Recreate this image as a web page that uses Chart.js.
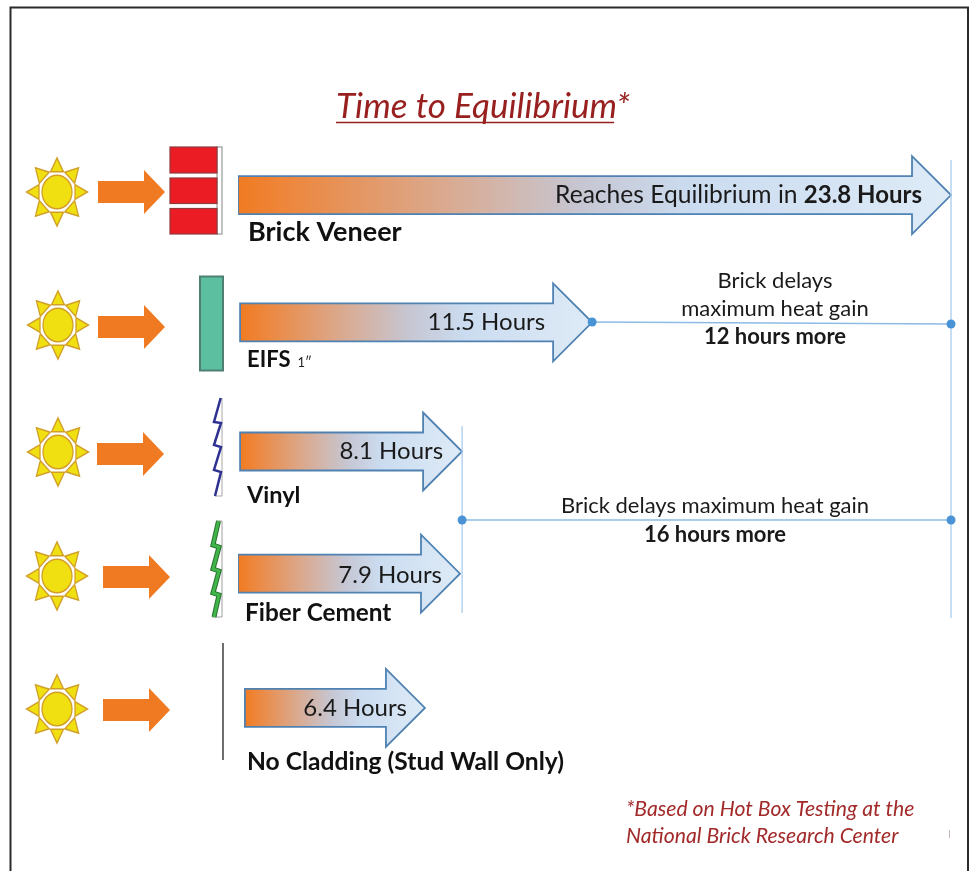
<!DOCTYPE html>
<html><head><meta charset="utf-8">
<style>html,body{margin:0;padding:0;background:#fff}canvas{display:block}</style>
<script src="https://cdn.jsdelivr.net/npm/chart.js@4/dist/chart.umd.js"></script>
</head><body><canvas id="c" width="974" height="871"></canvas>
<script>
// ---- data ----
const categories = ['Brick Veneer','EIFS','Vinyl','Fiber Cement','No Cladding (Stud Wall Only)'];
const arrowStartHours = [0, 0.07, 0.07, 0, 0.23];
const arrowEndHours = [23.8, 11.82, 7.48, 7.41, 6.24];
const prefixLabels = ['Reaches Equilibrium in ', '', '', '', ''];
const valueLabels = ['23.8 Hours','11.5 Hours','8.1 Hours','7.9 Hours','6.4 Hours'];
const titleText = 'Time to Equilibrium';
const titleMark = '*';
const footnoteLines = ['*Based on Hot Box Testing at the','National Brick Research Center'];
const delayA = ['Brick delays','maximum heat gain','12 hours more'];
const delayB = ['Brick delays maximum heat gain','16 hours more'];

// ---- layout and style ----
const FONT = 'Lato, "Open Sans", sans-serif';
const rowNudge = [0,-1,0,-6,0];
const layoutStyle = {
  valueRight:[29,47,19,18,18],
  valueNudge:[0,0,0,1.5,0],
  valueBold:[true,false,false,false,false],
  catX:[248,247,247,245,247], catY:[232,360,495,613,762],
  catSize:[27,22,23.5,24.3,24.6],
  sun:[[57,192],[58,325],[58,452],[57,576],[57,709]],
  push:[[98,192],[98,327],[97,454],[103,577],[103,710]]
};
let chartRef = null;

class ArrowBar extends Chart.BarElement {
  static id = 'arrowBar';
  static defaults = {...Chart.BarElement.defaults};
  draw(ctx){
    const {x,base,y,height} = this.getProps(['x','base','y','height']);
    const idx = chartRef ? chartRef.getDatasetMeta(0).data.indexOf(this) : 0;
    const cy = y + rowNudge[idx];
    const h = height/2, H = 39, hw = 39;
    const g = ctx.createLinearGradient(base,0,x,0);
    g.addColorStop(0,'#f07b22'); g.addColorStop(0.06,'#ee8539');
    g.addColorStop(0.3,'#d9ab93'); g.addColorStop(0.48,'#c6c6d2');
    g.addColorStop(0.64,'#cbdcf0'); g.addColorStop(1,'#deebf7');
    ctx.save();
    ctx.beginPath();
    ctx.moveTo(base,cy-h); ctx.lineTo(x-hw,cy-h); ctx.lineTo(x-hw,cy-H); ctx.lineTo(x,cy);
    ctx.lineTo(x-hw,cy+H); ctx.lineTo(x-hw,cy+h); ctx.lineTo(base,cy+h); ctx.closePath();
    ctx.fillStyle = g; ctx.fill();
    ctx.lineWidth = 1.8; ctx.strokeStyle = '#4f82b2'; ctx.lineJoin='miter'; ctx.stroke();
    ctx.restore();
  }
}
class ArrowController extends Chart.BarController {
  static id = 'arrow';
  static defaults = {...Chart.BarController.defaults, dataElementType:'arrowBar'};
  static overrides = Chart.BarController.overrides;
}
Chart.register(ArrowBar, ArrowController);

function text(ctx,s,x,y,font,color,align){
  ctx.font=font; ctx.fillStyle=color; ctx.textAlign=align||'left'; ctx.textBaseline='middle';
  ctx.fillText(s,x,y);
}
function drawSun(ctx,cx,cy){
  ctx.save(); ctx.translate(cx,cy); ctx.scale(1,1.12);
  ctx.fillStyle='#f0e012'; ctx.strokeStyle='#d19f28'; ctx.lineWidth=1.3;
  for(let i=0;i<8;i++){
    ctx.save(); ctx.rotate(i*Math.PI/4);
    const tip = 30.5, inner=18, w=i%2?7:6.5;
    ctx.beginPath(); ctx.moveTo(inner,-w); ctx.lineTo(tip,0); ctx.lineTo(inner,w); ctx.closePath();
    ctx.fill(); ctx.stroke(); ctx.restore();
  }
  ctx.beginPath(); ctx.arc(0,0,15,0,Math.PI*2); ctx.fill(); ctx.stroke();
  ctx.restore();
}
function drawPush(ctx,x,y){
  ctx.fillStyle='#f07a22';
  ctx.beginPath();
  ctx.moveTo(x,y-11); ctx.lineTo(x+46,y-11); ctx.lineTo(x+46,y-22); ctx.lineTo(x+67,y);
  ctx.lineTo(x+46,y+22); ctx.lineTo(x+46,y+11); ctx.lineTo(x,y+11); ctx.closePath(); ctx.fill();
}
function poly(ctx,pts,color,w){
  ctx.beginPath(); pts.forEach((p,i)=> i?ctx.lineTo(p[0],p[1]):ctx.moveTo(p[0],p[1]));
  ctx.strokeStyle=color; ctx.lineWidth=w; ctx.lineJoin='miter'; ctx.stroke();
}
function drawWalls(ctx){
  // brick
  ctx.fillStyle='#fff'; ctx.strokeStyle='#9a9a9a'; ctx.lineWidth=1.2;
  ctx.strokeRect(217,147,5,87);
  ctx.fillStyle='#ec1c24'; ctx.strokeStyle='#8e3a3e';
  [[147,26],[178,25.5],[208.5,25.5]].forEach(r=>{ctx.fillRect(170,r[0],47,r[1]);ctx.strokeRect(170,r[0],47,r[1]);});
  // EIFS
  ctx.fillStyle='#5cc0a0'; ctx.strokeStyle='#4f7f72'; ctx.lineWidth=2;
  ctx.fillRect(200,276.5,23,94); ctx.strokeRect(200,276.5,23,94);
  // vinyl
  poly(ctx,[[222,398],[222,496],[215,496]],'#a8a8a8',1);
  poly(ctx,[[220.7,398],[214,422],[221,423],[214,445],[221,447],[214,470],[221,472],[215,496]],'#2e3192',2.5);
  // fiber cement
  poly(ctx,[[217,521],[222,521],[222,617],[212,617]],'#a0a0a0',1);
  const fc=[[218.5,521],[213,545],[219,547],[213,569],[219,571],[213,593],[219,595],[214,617]];
  poly(ctx,fc,'#2a6f30',5); poly(ctx,fc,'#3fb54a',3);
  // no cladding
  poly(ctx,[[223,643],[223,760]],'#4a4a4a',1.6);
}
function dot(ctx,x,y){ctx.fillStyle='#4a94d6';ctx.beginPath();ctx.arc(x,y,4.5,0,Math.PI*2);ctx.fill();}

const infographic = {
  id:'infographic',
  afterDraw(chart){
    const ctx=chart.ctx, xs=chart.scales.x, ys=chart.scales.y;
    const xEnd=xs.getPixelForValue(arrowEndHours[0]);
    const xEifs=xs.getPixelForValue(arrowEndHours[1]);
    const xVinyl=xs.getPixelForValue(arrowEndHours[2]);
    ctx.save();
    // frame
    poly(ctx,[[10.5,871],[10.5,7.5],[968,7.5],[968,871]],'#2b2b2b',2);
    // title underline
    const tb=chart.titleBlock, tf=chart.options.plugins.title.font;
    ctx.font=`italic ${tf.size}px ${FONT}`;
    const full=ctx.measureText(titleText+titleMark).width, part=ctx.measureText(titleText).width;
    const tl=(tb.left+tb.right)/2-full/2;
    poly(ctx,[[tl,122.5],[tl+part-3,122.5]],'#98201f',1.6);
    // callout lines
    const blue='#a9cdee';
    poly(ctx,[[xEnd,160],[xEnd,618]],blue,1.3);
    poly(ctx,[[xVinyl,426],[xVinyl,613]],blue,1.3);
    poly(ctx,[[xEifs,322],[xEnd,324]],'#8dbbe6',1.3);
    poly(ctx,[[xVinyl,520],[xEnd,520]],'#8dbbe6',1.3);
    dot(ctx,xEifs,322); dot(ctx,xEnd,324); dot(ctx,xVinyl,520); dot(ctx,xEnd,520);
    // icons
    layoutStyle.sun.forEach(p=>drawSun(ctx,p[0],p[1]));
    layoutStyle.push.forEach(p=>drawPush(ctx,p[0],p[1]));
    drawWalls(ctx);
    // arrow + category labels
    categories.forEach((c,i)=>{
      const cy=ys.getPixelForValue(i)+rowNudge[i]+layoutStyle.valueNudge[i], right=xs.getPixelForValue(arrowEndHours[i])-layoutStyle.valueRight[i];
      const vf=`${layoutStyle.valueBold[i]?'bold ':''}24px ${FONT}`;
      text(ctx,valueLabels[i],right,cy,vf,'#1a1a1a','right');
      if(prefixLabels[i]){
        const w=ctx.measureText(valueLabels[i]).width;
        text(ctx,prefixLabels[i],right-w,cy,`24.6px ${FONT}`,'#1a1a1a','right');
      }
      text(ctx,c,layoutStyle.catX[i],layoutStyle.catY[i],`bold ${layoutStyle.catSize[i]}px ${FONT}`,'#111');
      if(i===1){
        const w=ctx.measureText(c).width;
        text(ctx,'1″',layoutStyle.catX[i]+w+7,layoutStyle.catY[i]+3,`13px ${FONT}`,'#222');
      }
    });
    // delay notes
    text(ctx,delayA[0],775,281,`22px ${FONT}`,'#1a1a1a','center');
    text(ctx,delayA[1],775,309,`22px ${FONT}`,'#1a1a1a','center');
    text(ctx,delayA[2],775,337,`bold 22px ${FONT}`,'#1a1a1a','center');
    text(ctx,delayB[0],715,506,`22px ${FONT}`,'#1a1a1a','center');
    text(ctx,delayB[1],715,535,`bold 22px ${FONT}`,'#1a1a1a','center');
    // footnote
    text(ctx,footnoteLines[0],626,809,`italic 21.2px ${FONT}`,'#a32a2a');
    text(ctx,footnoteLines[1],626,836,`italic 21.2px ${FONT}`,'#a32a2a');
    poly(ctx,[[949.5,830],[949.5,838]],'#c9b8b8',1);
    ctx.restore();
  }
};

const arrowChart = new Chart(document.getElementById('c'),{
  type:'arrow',
  data:{labels:categories,datasets:[{
    label:'Hours to equilibrium',
    data:arrowEndHours.map((e,i)=>[arrowStartHours[i],e]),
    barThickness:38, backgroundColor:'#cfe0f1', borderColor:'#4f82b2'
  }]},
  options:{
    indexAxis:'y', responsive:false, animation:false,
    layout:{padding:{left:0,right:8,top:0,bottom:99}},
    plugins:{
      legend:{display:false}, tooltip:{enabled:false},
      title:{display:true,text:titleText+titleMark,color:'#98201f',
        font:{family:FONT,size:35,style:'italic',weight:'normal',lineHeight:1.2},
        padding:{top:86,bottom:3}}
    },
    scales:{
      x:{type:'linear',display:false,min:0,max:24.3,grid:{display:false}},
      y:{type:'category',offset:true,grid:{display:false},border:{display:false},
         ticks:{display:false},afterFit(s){s.width=238;}}
    }
  },
  plugins:[infographic]
});
chartRef = arrowChart;
arrowChart.draw();
</script></body></html>
